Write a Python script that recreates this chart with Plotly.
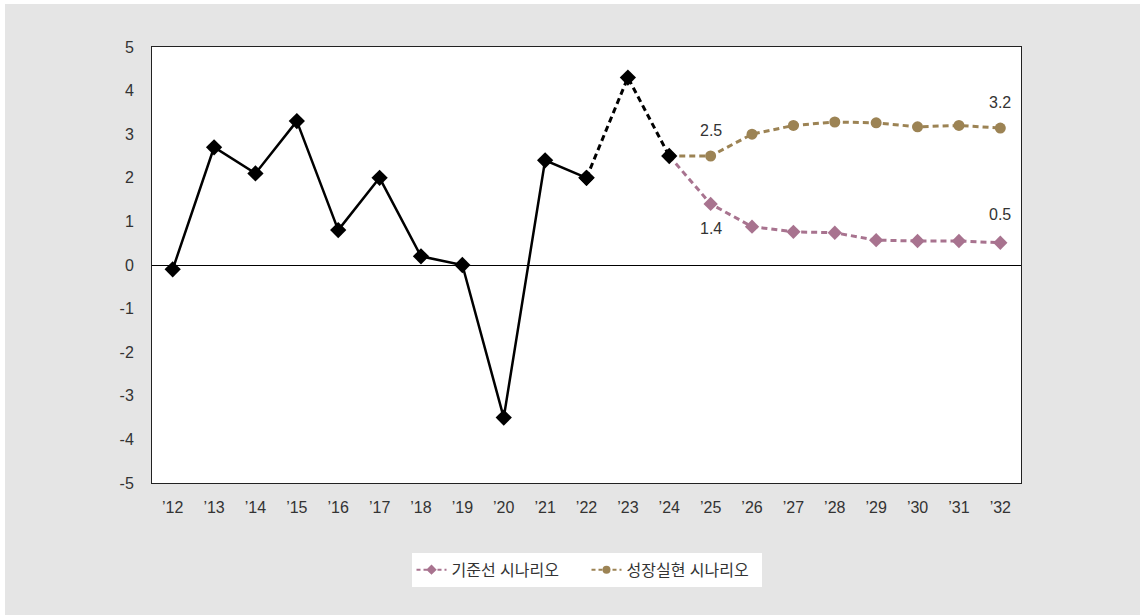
import plotly.graph_objects as go

years = ["’12", "’13", "’14", "’15", "’16", "’17", "’18", "’19", "’20", "’21", "’22",
         "’23", "’24", "’25", "’26", "’27", "’28", "’29", "’30", "’31", "’32"]
actual_years = years[:11]
actual_vals = [-0.1, 2.7, 2.1, 3.3, 0.8, 2.0, 0.2, 0.0, -3.5, 2.4, 2.0]
prelim_years = years[10:13]
prelim_vals = [2.0, 4.3, 2.5]
scen_years = years[12:]
baseline_vals = [2.5, 1.4, 0.88, 0.76, 0.74, 0.57, 0.55, 0.55, 0.51]
growth_vals = [2.5, 2.5, 3.0, 3.2, 3.28, 3.26, 3.17, 3.2, 3.14]
baseline_name = "기준선 시나리오"
growth_name = "성장실현 시나리오"
y_tickvals = [-5, -4, -3, -2, -1, 0, 1, 2, 3, 4, 5]
y_ticktext = ["-5", "-4", "-3", "-2", "-1", "0", "1", "2", "3", "4", "5"]

PINK = "#a8738f"
GOLD = "#9c8354"
TXT = "#333333"
FONT = "Liberation Sans, Arial, Noto Sans CJK KR, sans-serif"
DASH = "6px,4px"

fig = go.Figure()
# plotted series
fig.add_trace(go.Scatter(
    x=scen_years, y=baseline_vals, name=baseline_name, mode="lines+markers",
    showlegend=False,
    line=dict(color=PINK, width=3, dash=DASH),
    marker=dict(symbol="diamond", size=11, color=PINK)))
fig.add_trace(go.Scatter(
    x=scen_years, y=growth_vals, name=growth_name, mode="lines+markers",
    showlegend=False,
    line=dict(color=GOLD, width=3, dash=DASH),
    marker=dict(symbol="circle", size=11, color=GOLD)))
fig.add_trace(go.Scatter(
    x=actual_years, y=actual_vals, mode="lines+markers", showlegend=False,
    line=dict(color="black", width=2.5),
    marker=dict(symbol="diamond", size=12.5, color="black")))
fig.add_trace(go.Scatter(
    x=prelim_years, y=prelim_vals, mode="lines+markers", showlegend=False,
    line=dict(color="black", width=3, dash=DASH),
    marker=dict(symbol="diamond", size=12.5, color="black")))
# legend entries (smaller symbols, as in the reference legend)
fig.add_trace(go.Scatter(
    x=[None], y=[None], name=baseline_name, mode="lines+markers",
    line=dict(color=PINK, width=2, dash="4px,3px"),
    marker=dict(symbol="diamond", size=8, color=PINK)))
fig.add_trace(go.Scatter(
    x=[None], y=[None], name=growth_name, mode="lines+markers",
    line=dict(color=GOLD, width=2, dash="4px,3px"),
    marker=dict(symbol="circle", size=8, color=GOLD)))

labels = [
    (scen_years[1], growth_vals[1], "2.5", 26),
    (scen_years[-1], growth_vals[-1], "3.2", 26),
    (scen_years[1], baseline_vals[1], "1.4", -25),
    (scen_years[-1], baseline_vals[-1], "0.5", 28),
]
for x, y, t, s in labels:
    fig.add_annotation(x=x, y=y, text=t, showarrow=False, yshift=s,
                       font=dict(size=16, color=TXT, family=FONT))

fig.update_xaxes(
    type="category", categoryorder="array", categoryarray=years,
    range=[-0.5, 20.5], showgrid=False, zeroline=False,
    showline=True, linecolor="#222222", linewidth=1, mirror=True,
    ticks="outside", ticklen=0, ticklabelstandoff=10,
    tickfont=dict(size=16, color=TXT, family=FONT))
fig.update_yaxes(
    range=[-5, 5], tickvals=y_tickvals, ticktext=y_ticktext, showgrid=False,
    zeroline=True, zerolinecolor="black", zerolinewidth=1,
    showline=True, linecolor="#222222", linewidth=1, mirror=True,
    ticks="outside", ticklen=0, ticklabelstandoff=14,
    tickfont=dict(size=16, color=TXT, family=FONT))

fig.update_layout(
    width=1144, height=615,
    margin=dict(l=152, r=123, t=47, b=132),
    paper_bgcolor="#e5e5e5", plot_bgcolor="white",
    font=dict(family=FONT, size=16, color=TXT),
    legend=dict(orientation="h", x=0.5, xanchor="center", y=-0.16, yanchor="top",
                bgcolor="white", font=dict(size=16, color=TXT, family=FONT),
                itemwidth=30, entrywidth=130),
    shapes=[
        dict(type="rect", xref="paper", yref="paper", layer="above",
             x0=-152/869, x1=1 + 123/869, y0=1 + 43/436, y1=1 + 60/436,
             fillcolor="white", line=dict(width=0)),
        dict(type="rect", xref="paper", yref="paper", layer="above",
             x0=-160/869, x1=-147/869, y0=-140/436, y1=1 + 60/436,
             fillcolor="white", line=dict(width=0)),
        dict(type="rect", xref="paper", yref="paper", layer="above",
             x0=1 + 119/869, x1=1 + 130/869, y0=-140/436, y1=1 + 60/436,
             fillcolor="white", line=dict(width=0)),
    ],
)

fig.write_html("out.html")
